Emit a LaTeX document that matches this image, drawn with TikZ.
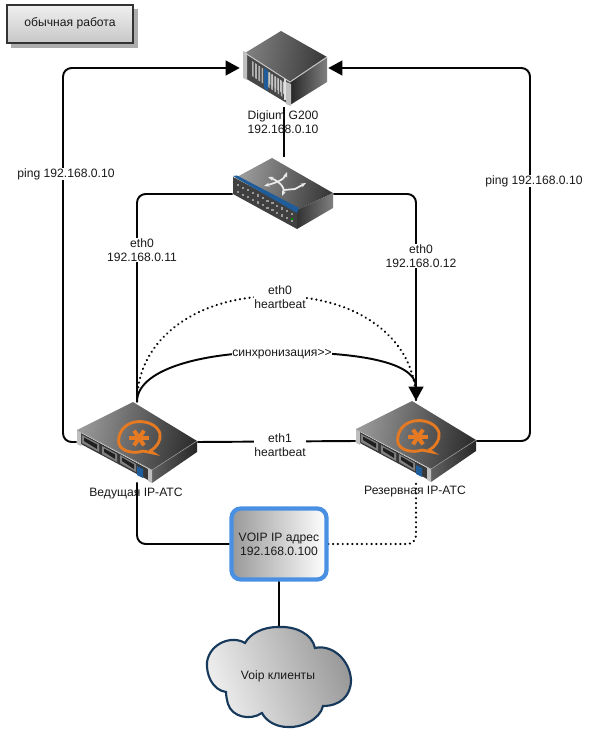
\documentclass[tikz,border=0pt]{standalone}
\usepackage{fontspec}
\setmainfont[Ligatures=NoCommon]{Liberation Sans}
\usetikzlibrary{arrows.meta}
\definecolor{linek}{HTML}{050505}
\definecolor{voipblue}{HTML}{4A90E2}
\definecolor{cloudedge}{HTML}{17395C}
\definecolor{astorange}{HTML}{E67A22}
\definecolor{panelblue}{HTML}{1F5C9A}
\tikzset{
  conn/.style={draw=linek,line width=1.45pt,rounded corners=6.5pt},
  dotconn/.style={conn,line cap=round,dash pattern=on 0.1pt off 3.5pt,line width=1.75pt},
  bigtip/.style={-{Triangle[length=10.5pt,width=11pt]}},
  lbl/.style={font=\fontsize{9.1}{10.6}\selectfont,text=black!90,align=center,inner sep=0.6pt},
  lblw/.style={lbl,fill=white},
  devbox/.style={inner sep=0pt,minimum width=#1*0.75pt},
}
\newcommand{\rackserver}[2]{%
  \begin{scope}[shift={(#1,#2)}]
    \shade[left color=black!40,right color=black!82,shading angle=80] (133,402) -- (197,441) -- (152,470) -- (77,430) -- cycle;
    \shade[left color=black!62,right color=black!85] (152,470) -- (197,441) -- (197,452) -- (152,483) -- cycle;
    \fill[black!78] (79,432) -- (150,470) -- (150,481) -- (79,443) -- cycle;
    \fill[black!25] (77,430) -- (81,432) -- (81,446) -- (77,444) -- cycle;
    \fill[black!25] (148,468) -- (152,470) -- (152,483) -- (148,481) -- cycle;
    \draw[black!40,line width=0.4pt] (77,430) -- (152,470) -- (197,441);
    \foreach \ax/\ay/\bx/\by in {82/435/99/444,102/446/117/454,120/455/136/464}{
      \fill[black!50] (\ax,\ay) -- (\bx,\by) -- (\bx,\by+8) -- (\ax,\ay+8) -- cycle;
      \fill[black!88] (\ax+2,\ay+2.5) -- (\bx-2,\by+0.5) -- (\bx-2,\by+5) -- (\ax+2,\ay+6) -- cycle;
    }
    \fill[panelblue] (137,466) -- (143,469) -- (143,478) -- (137,475) -- cycle;
    % asterisk logo
    \draw[astorange,line width=2.2pt,line cap=round,dash pattern=on 1.6pt off 0.5pt]
      (150,451) .. controls (157,447) and (161,441) .. (160,434)
      .. controls (158,425) and (146,420) .. (135,422)
      .. controls (123,424) and (117,435) .. (119,444)
      .. controls (122,452) and (134,454) .. (143,451)
      -- (153,453) -- cycle;
    \foreach \a in {0,60,120}{
      \draw[astorange,line width=3pt] (139,438) ++(\a:10 and 8.5) -- ++(\a+180:20 and 17);
    }
  \end{scope}}
\begin{document}
\begin{tikzpicture}[x=0.75pt,y=-0.75pt]
\useasboundingbox[fill=white] (0,0) rectangle (590,737);

% device frames
\node[devbox=88,minimum height=78*0.75pt] (g200) at (284,68) {};
\node[devbox=100,minimum height=74*0.75pt] (sw) at (283,194) {};
\node[devbox=120,minimum height=80*0.75pt] (srva) at (137,442) {};
\node[devbox=120,minimum height=80*0.75pt] (srvb) at (416,441) {};
\node[devbox=98,minimum height=74*0.75pt] (voip) at (279,544) {};
\node[devbox=144,minimum height=100*0.75pt] (cloud) at (279,677) {};
\coordinate (leftup) at (63,68);
\coordinate (rightup) at (530,68);
\coordinate (arctop) at (277,352);
\coordinate (dottop) at (277,296);

% connectors
\draw[conn] (g200.south) -- (g200.south |- sw.north);
\draw[conn] (sw.west) -| (srva.north);
\draw[conn] (sw.east) -| (srvb.north);
\draw[conn,bigtip] (srva.west) -| (leftup) -- (g200.west);
\draw[conn,bigtip] (srvb.east) -| (rightup) -- (g200.east);
\draw[conn] (srva.east) -- (srvb.west);
\draw[conn] (srva.south) |- (voip.west);
\draw[dotconn] (voip.east) -| (srvb.south);
\draw[conn] (voip.south) -- (cloud.north);
\draw[dotconn,rounded corners=0pt] (srva.north) .. controls (137,340) and (195,296) .. (dottop)
   .. controls (360,296) and (416,340) .. (srvb.north);
\draw[conn,rounded corners=0pt,bigtip] (srva.north) .. controls (137,370) and (200,352) .. (arctop)
   .. controls (350,352) and (416,360) .. (srvb.north);

% digium G200
\shade[left color=black!50,right color=black!78,shading angle=80] (245,53) -- (281,31) -- (327,57) -- (290,82) -- cycle;
\shade[left color=black!85,right color=black!50] (290,82) -- (327,57) -- (327,82) -- (290,105) -- cycle;
\fill[black!72] (245,53) -- (290,82) -- (290,105) -- (245,78) -- cycle;
\fill[black!25] (243,51) -- (247,53) -- (247,80) -- (243,78) -- cycle;
\fill[black!25] (286,82) -- (291,84) -- (291,106) -- (286,104) -- cycle;
\draw[black!20,line width=0.7pt] (245,53) -- (290,82) -- (327,57);
\foreach \k in {0,...,9}{
  \fill[black!30] (252+3.2*\k,61+2.2*\k) -- +(1.6,1) -- +(1.6,16) -- +(0,15) -- cycle;
}
\fill[panelblue] (264,68) -- (268,70.5) -- (268,91) -- (264,88) -- cycle;
\foreach \k in {0,...,5}{
  \fill[black!22] (269+2.8*\k,72+1.9*\k) -- +(1.4,1) -- +(1.4,13) -- +(0,12) -- cycle;
}
\draw[black!12,line width=0.8pt] (285,79) -- (285,100);

% switch
\shade[left color=black!38,right color=black!78,shading angle=80] (235,178) -- (272,158) -- (333,193) -- (297,210) -- cycle;
\shade[left color=black!80,right color=black!50] (297,210) -- (333,193) -- (333,208) -- (297,229) -- cycle;
\fill[black!75] (233,177) -- (297,211) -- (297,229) -- (233,194) -- cycle;
\fill[panelblue] (233,176) -- (237,175.5) -- (299,208) -- (297,213) -- cycle;
\foreach \k in {0,...,11}{
  \fill[black!40] (237+4.9*\k,184+2.6*\k) rectangle +(2.2,2.2);
  \fill[black!40] (237+4.9*\k,191+2.6*\k) rectangle +(2.2,2.2);
}
\fill[green!55!black] (291,218) rectangle +(2.2,2.2);
\draw[black!8,line width=1.3pt,{Stealth[length=4pt]}-{Stealth[length=4pt]}] (264,186) .. controls (275,183) and (284,180) .. (287,172);
\draw[black!8,line width=1.3pt,{Stealth[length=4pt]}-{Stealth[length=4pt]}] (268,177) .. controls (276,180) and (286,186) .. (282,196);
\draw[black!8,line width=1.3pt,-{Stealth[length=4pt]}] (284,190) -- (295,189) -- (306,183);

% servers
\rackserver{0}{0}
\rackserver{279}{-1}

% VOIP box
\shade[rounded corners=7pt,draw=voipblue,line width=3.2pt,left color=black!40,right color=white] (231.5,508.5) rectangle (326.5,579.5);
\node[lbl] (voiptext) at (voip.center) {VOIP IP адрес\\192.168.0.100};

% cloud
\shade[draw=cloudedge,line width=1.6pt,left color=black!6,right color=black!40,shading angle=110]
  (278,627) .. controls (296,626) and (312,634) .. (315,648)
  .. controls (332,644) and (350,660) .. (351,680)
  .. controls (351,696) and (340,706) .. (323,706)
  .. controls (320,720) and (300,728) .. (288,727)
  .. controls (276,727) and (266,721) .. (262,713)
  .. controls (250,721) and (232,717) .. (228,704)
  .. controls (227,700) and (226,696) .. (226,692)
  .. controls (212,690) and (206,674) .. (207,662)
  .. controls (210,643) and (232,635) .. (245,643)
  .. controls (250,634) and (262,627) .. (278,627) -- cycle;
\node[lbl] (cloudtext) at (278,676) {Voip клиенты};

% status box
\fill[black!32] (11,9) rectangle (138,48);
\shade[draw=black!80,line width=1.6pt,top color=black!6,bottom color=black!22] (7,5) rectangle (133,43);
\node[lbl] (statustext) at (70,23) {обычная работа};

% labels
\node[lbl] (g200text) at (283,122) {Digium G200\\192.168.0.10};
\node[lblw] (pingleft) at (66,174) {ping 192.168.0.10};
\node[lblw] (pingright) at (534,181) {ping 192.168.0.10};
\node[lblw] (etha) at (142,250) {eth0\\192.168.0.11};
\node[lblw] (ethb) at (421,256) {eth0\\192.168.0.12};
\node[lblw] (hbtop) at (280,297) {eth0\\heartbeat};
\node[lblw] (sync) at (282,354) {синхронизация{>}{>}};
\node[lblw] (hbbot) at (280,445) {eth1\\heartbeat};
\node[lbl] (srvatext) at (136,494) {Ведущая IP-АТС};
\node[lbl] (srvbtext) at (415,492) {Резервная IP-АТС};
\end{tikzpicture}
\end{document}
